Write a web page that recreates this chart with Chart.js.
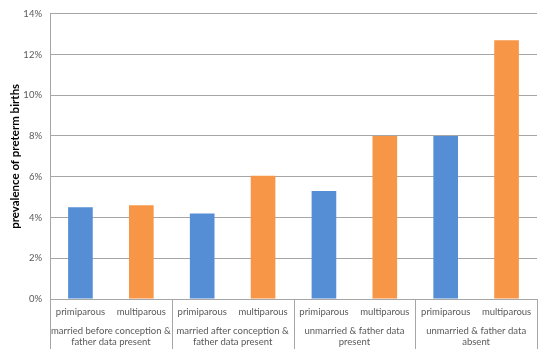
<!DOCTYPE html>
<html>
<head>
<meta charset="utf-8">
<script src="https://cdn.jsdelivr.net/npm/chart.js@4"></script>
<style>
  body { margin: 0; background: #fff; }
  #wrap { width: 550px; height: 357px; }
</style>
</head>
<body>
<div id="wrap"><canvas id="chart" width="550" height="357"></canvas></div>
<script>
// Group labels (second level of the x axis), two lines each
const groups = [
  ['married before conception &', 'father data present'],
  ['married after conception &', 'father data present'],
  ['unmarried & father data', 'present'],
  ['unmarried & father data', 'absent']
];
const parity = ['primiparous', 'multiparous'];

// Prevalence of preterm births (%)
const primiparous = [4.5, 4.2, 5.3, 8.0];
const multiparous = [4.6, 6.05, 8.0, 12.7];

const yMax = 14;
const yStep = 2;

const blue = '#558ed5';
const orange = '#f79646';
const textColor = '#595959';
const fontFamily = 'Lato, "Open Sans", sans-serif';

// Flatten to one bar per (group, parity)
const labels = [];
const values = [];
const colors = [];
groups.forEach((g, i) => {
  labels.push(parity[0]); values.push(primiparous[i]); colors.push(blue);
  labels.push(parity[1]); values.push(multiparous[i]); colors.push(orange);
});

// Draws the group separators and group labels under the axis
const groupAxis = {
  id: 'groupAxis',
  afterDraw(chart) {
    const ctx = chart.ctx;
    const area = chart.chartArea;
    const step = (area.right - area.left) / labels.length;
    ctx.save();
    ctx.strokeStyle = '#a6a6a6';
    ctx.lineWidth = 1;
    for (let i = 0; i <= groups.length; i++) {
      const px = Math.round(area.left + i * 2 * step) + 0.5;
      ctx.beginPath();
      ctx.moveTo(px, area.bottom);
      ctx.lineTo(px, area.bottom + 50);
      ctx.stroke();
    }
    ctx.fillStyle = textColor;
    ctx.font = '9.5px ' + fontFamily;
    ctx.textAlign = 'center';
    ctx.textBaseline = 'middle';
    groups.forEach((g, i) => {
      const cx = area.left + (i * 2 + 1) * step;
      g.forEach((line, j) => {
        ctx.fillText(line, cx, area.bottom + 32 + j * 11);
      });
    });
    ctx.restore();
  }
};

new Chart(document.getElementById('chart'), {
  type: 'bar',
  data: {
    labels: labels,
    datasets: [{
      data: values,
      backgroundColor: colors,
      categoryPercentage: 1,
      barPercentage: 0.405
    }]
  },
  options: {
    responsive: false,
    animation: false,
    layout: { padding: { top: -3, right: 13, left: 4, bottom: 0 } },
    plugins: { legend: { display: false }, tooltip: { enabled: false } },
    scales: {
      x: {
        grid: { display: false, drawTicks: false },
        border: { display: true, color: '#a6a6a6' },
        ticks: {
          color: textColor,
          font: { family: fontFamily, size: 9.5 },
          padding: 7,
          maxRotation: 0,
          autoSkip: false
        },
        afterFit(scale) { scale.height = 58; }
      },
      y: {
        min: 0,
        max: yMax,
        ticks: {
          stepSize: yStep,
          color: textColor,
          font: { family: fontFamily, size: 9.5 },
          padding: 8,
          callback: v => v + '%'
        },
        grid: { color: '#a6a6a6', drawTicks: false },
        border: { display: true, color: '#a6a6a6' },
        title: {
          display: true,
          text: 'prevalence of preterm births',
          color: '#000',
          font: { family: fontFamily, size: 11.5, weight: 'bold' },
          padding: { top: 4, bottom: 0 }
        },
        afterFit(scale) { scale.width = 46; }
      }
    }
  },
  plugins: [groupAxis]
});
</script>
</body>
</html>
